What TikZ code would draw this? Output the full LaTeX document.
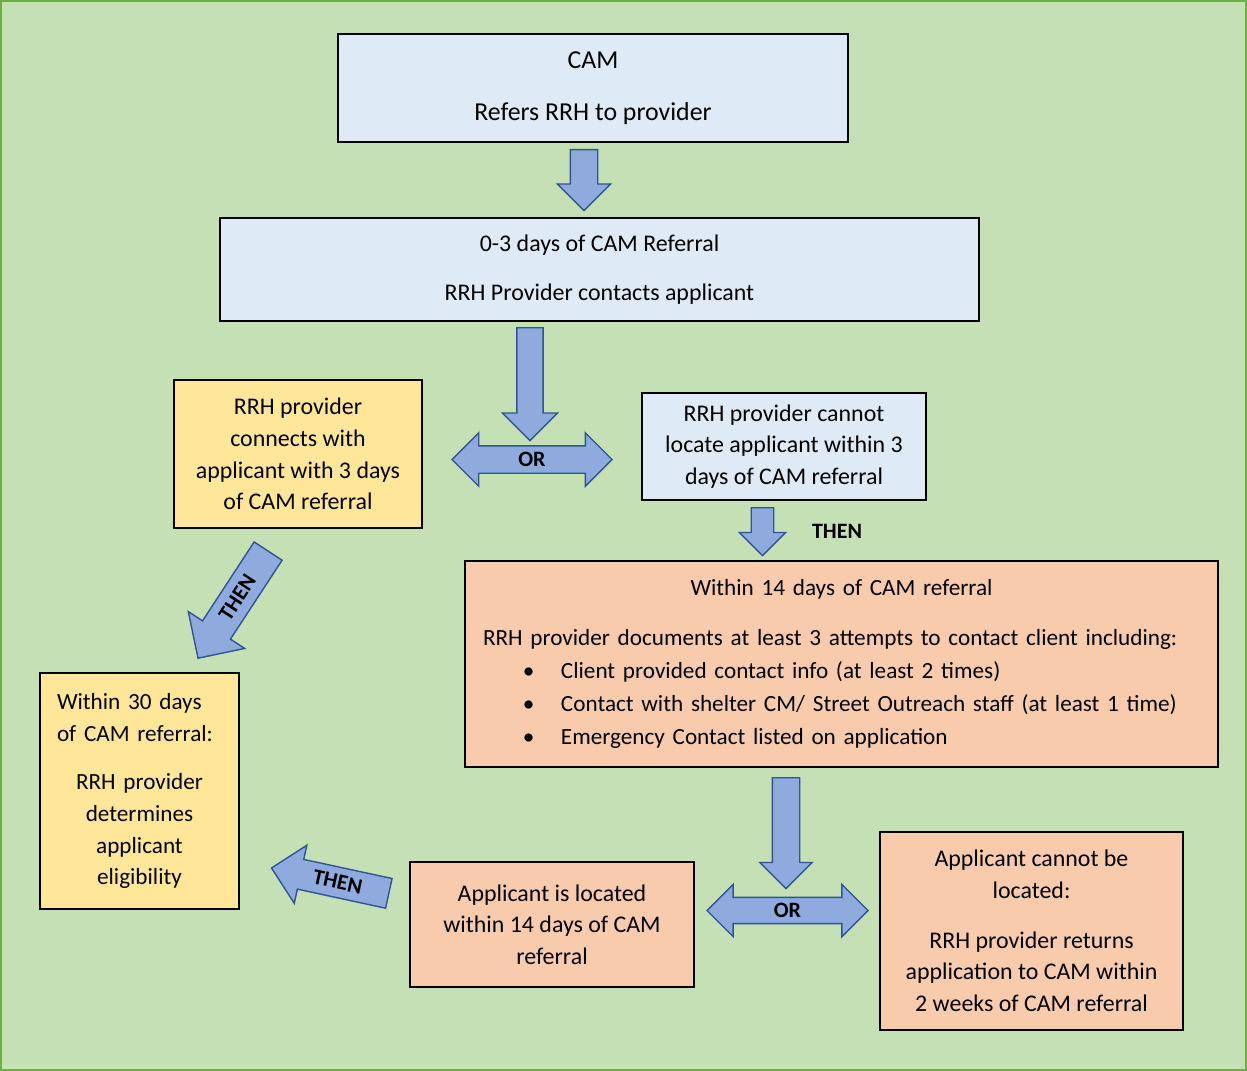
\documentclass[tikz,border=0pt]{standalone}
\usepackage{fontspec}
\setmainfont{Carlito}
\usetikzlibrary{shapes.arrows, positioning}

\definecolor{bggreen}{HTML}{C5E0B4}
\definecolor{framegreen}{HTML}{70AD47}
\definecolor{stepblue}{HTML}{DEEBF7}
\definecolor{stepyellow}{HTML}{FFE699}
\definecolor{steppeach}{HTML}{F8CBAD}
\definecolor{arrowfill}{HTML}{8FAADC}
\definecolor{arrowline}{HTML}{2F5597}

\newcommand{\pxu}{0.02cm}
\newcommand{\bulletline}[1]{\hspace*{0.8cm}\makebox[0.76cm][l]{\textbullet}#1\par}

\tikzset{
  stepbox/.style={draw=black, line width=1.1pt, inner sep=0pt, align=center,
    font=\fontsize{13.6}{18}\selectfont},
  blockarrow/.style={draw=arrowline, fill=arrowfill, line width=0.8pt, inner sep=0pt,
    font=\bfseries\fontsize{12.5}{14}\selectfont},
  downarrow/.style={blockarrow, single arrow, rotate=-90, anchor=tail,
    text height=#1, text depth=#1},
  downarrow/.default=7.4pt
}

\begin{document}
\begin{tikzpicture}[x=\pxu, y=-\pxu]
  \useasboundingbox (0,0) rectangle (1247,1071);
  \draw[fill=bggreen, draw=framegreen, line width=1.2pt] (1,1) rectangle (1246,1070);

  \node[stepbox, fill=stepblue, minimum width=510*\pxu, minimum height=108*\pxu,
    font=\fontsize{14.7}{18}\selectfont] (cam)
    at (593,88) {CAM\\[0.4cm]Refers RRH to provider};
  \node[stepbox, fill=stepblue, minimum width=759*\pxu, minimum height=103*\pxu] (contact)
    at (599.5,269.5) {0-3 days of CAM Referral\\[0.345cm]RRH Provider contacts applicant};
  \node[stepbox, fill=stepyellow, minimum width=248*\pxu, minimum height=148*\pxu] (connects)
    at (298,454) {RRH provider\\connects with\\applicant with 3 days\\of CAM referral};
  \node[stepbox, fill=stepblue, minimum width=284*\pxu, minimum height=107*\pxu] (nolocate)
    at (784,446.5) {RRH provider cannot\\locate applicant within 3\\days of CAM referral};
  \node[stepbox, fill=steppeach, minimum width=753*\pxu, minimum height=206*\pxu,
    text width=717*\pxu, align=left, font=\fontsize{13.2}{18.7}\selectfont] (attempts)
    at (841.5,664) {{\centering Within 14 days of CAM referral\par}\vspace{0.34cm}
    RRH provider documents at least 3 attempts to contact client including:\par
    \bulletline{Client provided contact info (at least 2 times)}
    \bulletline{Contact with shelter CM/ Street Outreach staff (at least 1 time)}
    \bulletline{Emergency Contact listed on application}\vspace{0.18cm}};
  \node[stepbox, fill=stepyellow, minimum width=199*\pxu, minimum height=236*\pxu,
    text width=165*\pxu, align=left, font=\fontsize{13.2}{18}\selectfont] (eligible)
    at (139.5,791) {Within 30 days\\of CAM referral:\par\vspace{0.345cm}
    {\centering RRH provider\\determines\\applicant\\eligibility\par}\vspace{0.16cm}};
  \node[stepbox, fill=steppeach, minimum width=284*\pxu, minimum height=125*\pxu] (located)
    at (552,924.5) {Applicant is located\\within 14 days of CAM\\referral};
  \node[stepbox, fill=steppeach, minimum width=303*\pxu, minimum height=198*\pxu] (returns)
    at (1031.5,931) {Applicant cannot be\\located:\\[0.365cm]RRH provider returns\\application to CAM within\\2 weeks of CAM referral};

  \node[downarrow, minimum width=52*\pxu, single arrow head extend=13*\pxu,
    minimum height=61*\pxu] (arrA) at (584,149) {};
  \node[downarrow=7.1pt, minimum width=54*\pxu, single arrow head extend=14.5*\pxu,
    minimum height=113*\pxu] (arrB) at (530,327) {};
  \node[blockarrow, double arrow, minimum width=52*\pxu, double arrow head extend=13*\pxu,
    text height=11.2pt, text depth=3.6pt, minimum height=160*\pxu] (orTop) at (532,459.5) {OR};
  \node[downarrow=6pt, minimum width=45*\pxu, single arrow head extend=12*\pxu,
    minimum height=48*\pxu] (arrD) at (762.5,507) {};
  \node[font=\bfseries\fontsize{12.5}{14}\selectfont] (thenD) at (837,531) {THEN};
  \node[blockarrow, single arrow, shape border rotate=180, rotate=56.8, anchor=tail,
    text height=12.9pt, text depth=5.3pt,
    minimum width=66*\pxu, single arrow head extend=17*\pxu, minimum height=128*\pxu]
    (thenE) at (268.5,550.5) {THEN};
  \node[downarrow, minimum width=51*\pxu, single arrow head extend=12.5*\pxu,
    minimum height=111*\pxu] (arrG) at (786,777) {};
  \node[blockarrow, double arrow, minimum width=51*\pxu, double arrow head extend=13*\pxu,
    text height=10.9pt, text depth=3.3pt, minimum height=161*\pxu] (orBot) at (787.5,910.5) {OR};
  \node[blockarrow, single arrow, shape border rotate=180, rotate=-12.2, anchor=tail,
    text height=12.1pt, text depth=4.4pt,
    minimum width=58*\pxu, single arrow head extend=14.5*\pxu, minimum height=120*\pxu]
    (thenF) at (389.5,893.5) {THEN};
\end{tikzpicture}
\end{document}
